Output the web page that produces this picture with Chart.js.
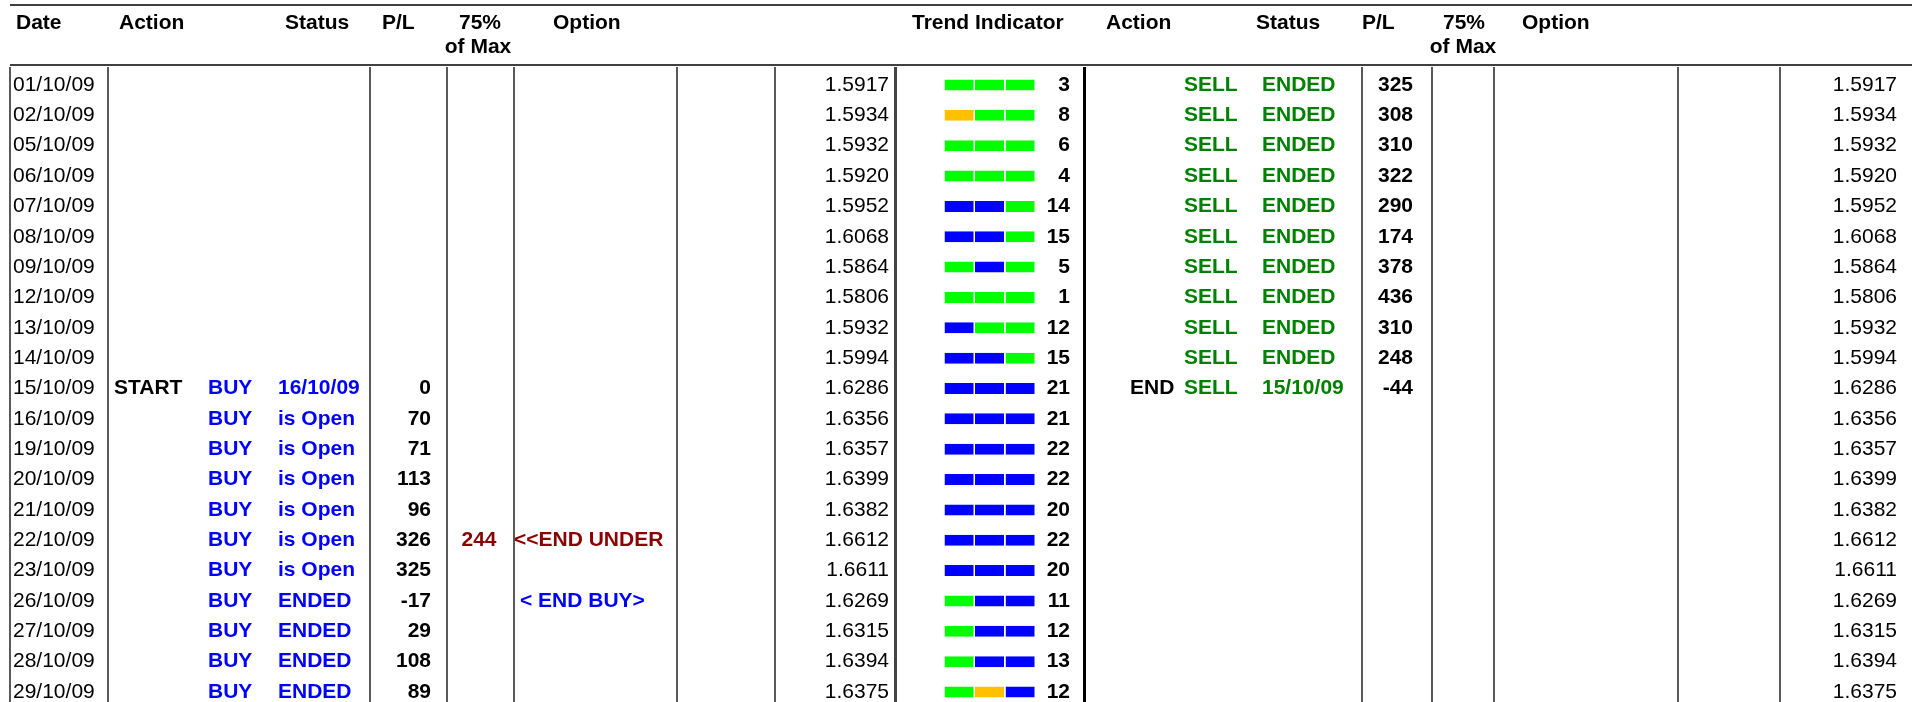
<!DOCTYPE html>
<html><head><meta charset="utf-8">
<script src="https://cdn.jsdelivr.net/npm/chart.js@4.4.0/dist/chart.umd.min.js"></script>
<style>html,body{margin:0;padding:0;background:#fff;overflow:hidden;}canvas{display:block}</style>
</head><body>
<canvas id="c" width="1912" height="740" style="width:1912px;height:740px"></canvas>
<script>
// ---------- DATA ----------
const dates = ['01/10/09','02/10/09','05/10/09','06/10/09','07/10/09','08/10/09','09/10/09','12/10/09','13/10/09','14/10/09','15/10/09','16/10/09','19/10/09','20/10/09','21/10/09','22/10/09','23/10/09','26/10/09','27/10/09','28/10/09','29/10/09'];
const prices = [1.5917,1.5934,1.5932,1.5920,1.5952,1.6068,1.5864,1.5806,1.5932,1.5994,1.6286,1.6356,1.6357,1.6399,1.6382,1.6612,1.6611,1.6269,1.6315,1.6394,1.6375];
const trendScore = [3,8,6,4,14,15,5,1,12,15,21,21,22,22,20,22,20,11,12,13,12];
const trendSeg1 = ['G','O','G','G','B','B','G','G','B','B','B','B','B','B','B','B','B','G','G','G','G'];
const trendSeg2 = ['G','G','G','G','B','B','B','G','G','B','B','B','B','B','B','B','B','B','B','B','O'];
const trendSeg3 = ['G','G','G','G','G','G','G','G','G','G','B','B','B','B','B','B','B','B','B','B','B'];
const buyAction = ['','','','','','','','','','','START','','','','','','','','','',''];
const buySignal = ['','','','','','','','','','','BUY','BUY','BUY','BUY','BUY','BUY','BUY','BUY','BUY','BUY','BUY'];
const buyStatus = ['','','','','','','','','','','16/10/09','is Open','is Open','is Open','is Open','is Open','is Open','ENDED','ENDED','ENDED','ENDED'];
const buyPL = [null,null,null,null,null,null,null,null,null,null,0,70,71,113,96,326,325,-17,29,108,89];
const buy75 = [null,null,null,null,null,null,null,null,null,null,null,null,null,null,null,244,null,null,null,null,null];
const buyOption = ['','','','','','','','','','','','','','','','<<END UNDER','','< END BUY>','','',''];
const sellAction = ['','','','','','','','','','','END','','','','','','','','','',''];
const sellSignal = ['SELL','SELL','SELL','SELL','SELL','SELL','SELL','SELL','SELL','SELL','SELL','','','','','','','','','',''];
const sellStatus = ['ENDED','ENDED','ENDED','ENDED','ENDED','ENDED','ENDED','ENDED','ENDED','ENDED','15/10/09','','','','','','','','','',''];
const sellPL = [325,308,310,322,290,174,378,436,310,248,-44,null,null,null,null,null,null,null,null,null,null];

// ---------- STYLE / LAYOUT ----------
const FONT = '"Liberation Sans", Arial, Helvetica, sans-serif';
const SEG_COLORS = {G:'#00FF00', B:'#0000FF', O:'#FFC000'};
const BLUE = '#0000FF', GREEN = '#008000', RED = '#8B0000', BLACK = '#000000';
const W = 1912, H = 740;
const ROW_TOP = 69.8, ROW_H = 30.35;
const BAR_LEFT = 944.5, UNIT = 30.5;
const THIN_LINES = [10,108,370,447,514,677,775,1362,1432,1494,1678,1780];

const headers = [
  ['Date',16,1,'left'],['Action',119,1,'left'],['Status',285,1,'left'],['P/L',382,1,'left'],
  ['75%',480,1,'center'],['of Max',478,2,'center'],['Option',553,1,'left'],
  ['Trend Indicator',912,1,'left'],['Action',1106,1,'left'],['Status',1256,1,'left'],['P/L',1362,1,'left'],
  ['75%',1464,1,'center'],['of Max',1463,2,'center'],['Option',1522,1,'left']
];

const optionStyle = {'<<END UNDER':{x:514,color:RED}, '< END BUY>':{x:520,color:BLUE}};
const fmtPrice = v => v.toFixed(4);
const columns = [
  {data:dates, x:13, align:'left', bold:false, color:BLACK},
  {data:buyAction, x:114, align:'left', bold:true, color:BLACK},
  {data:buySignal, x:208, align:'left', bold:true, color:BLUE},
  {data:buyStatus, x:278, align:'left', bold:true, color:BLUE},
  {data:buyPL, x:431, align:'right', bold:true, color:BLACK},
  {data:buy75, x:479, align:'center', bold:true, color:RED},
  {data:prices, x:889, align:'right', bold:false, color:BLACK, fmt:fmtPrice},
  {data:trendScore, x:1070, align:'right', bold:true, color:BLACK},
  {data:sellAction, x:1130, align:'left', bold:true, color:BLACK},
  {data:sellSignal, x:1184, align:'left', bold:true, color:GREEN},
  {data:sellStatus, x:1262, align:'left', bold:true, color:GREEN},
  {data:sellPL, x:1413, align:'right', bold:true, color:BLACK},
  {data:prices, x:1897, align:'right', bold:false, color:BLACK, fmt:fmtPrice}
];

const tablePlugin = {
  id:'table',
  afterDraw(chart){
    const ctx = chart.ctx, ys = chart.scales.y;
    ctx.save();
    // horizontal rules
    ctx.strokeStyle = BLACK; ctx.lineWidth = 1.4;
    [5,65].forEach(y=>{ctx.beginPath();ctx.moveTo(10,y);ctx.lineTo(W,y);ctx.stroke();});
    // vertical rules
    ctx.lineWidth = 1.3;
    THIN_LINES.forEach(x=>{ctx.beginPath();ctx.moveTo(x,67);ctx.lineTo(x,H);ctx.stroke();});
    ctx.lineWidth = 3;
    ctx.strokeStyle = '#444444';
    ctx.beginPath();ctx.moveTo(895.5,67);ctx.lineTo(895.5,H);ctx.stroke();
    ctx.strokeStyle = BLACK;
    ctx.beginPath();ctx.moveTo(1084.5,67);ctx.lineTo(1084.5,H);ctx.stroke();
    // headers
    ctx.fillStyle = BLACK; ctx.textBaseline = 'middle';
    ctx.font = 'bold 21px ' + FONT;
    headers.forEach(([t,x,l,a])=>{ctx.textAlign=a;ctx.fillText(t,x,l===1?23:47);});
    // cells
    columns.forEach(col=>{
      ctx.font = (col.bold?'bold ':'') + '21px ' + FONT;
      ctx.fillStyle = col.color; ctx.textAlign = col.align;
      col.data.forEach((v,i)=>{
        if (v===null || v==='') return;
        const s = col.fmt ? col.fmt(v) : String(v);
        ctx.fillText(s, col.x, ys.getPixelForValue(i));
      });
    });
    ctx.font = 'bold 21px ' + FONT; ctx.textAlign = 'left';
    buyOption.forEach((v,i)=>{
      if (!v) return;
      const st = optionStyle[v];
      ctx.fillStyle = st.color;
      ctx.fillText(v, st.x, ys.getPixelForValue(i));
    });
    ctx.restore();
  }
};

const segDataset = seg => ({
  data: dates.map(()=>1),
  backgroundColor: seg.map(c=>SEG_COLORS[c]),
  borderColor:'#FFFFFF',
  borderWidth:{left:0,right:1.5,top:0,bottom:0},
  borderSkipped:false,
  inflateAmount:0,
  barThickness:11
});

const xMin = -BAR_LEFT/UNIT;
new Chart(document.getElementById('c'), {
  type:'bar',
  data:{ labels:dates, datasets:[segDataset(trendSeg1), segDataset(trendSeg2), segDataset(trendSeg3)] },
  options:{
    indexAxis:'y', responsive:false, animation:false, devicePixelRatio:1, events:[],
    layout:{padding:{left:0,right:0,top:ROW_TOP,bottom:H-(ROW_TOP+ROW_H*dates.length)}},
    plugins:{legend:{display:false}, tooltip:{enabled:false}},
    scales:{
      x:{type:'linear', stacked:true, display:false, min:xMin, max:xMin+W/UNIT},
      y:{type:'category', stacked:true, display:false, offset:true}
    }
  },
  plugins:[tablePlugin]
});
</script>
</body></html>
